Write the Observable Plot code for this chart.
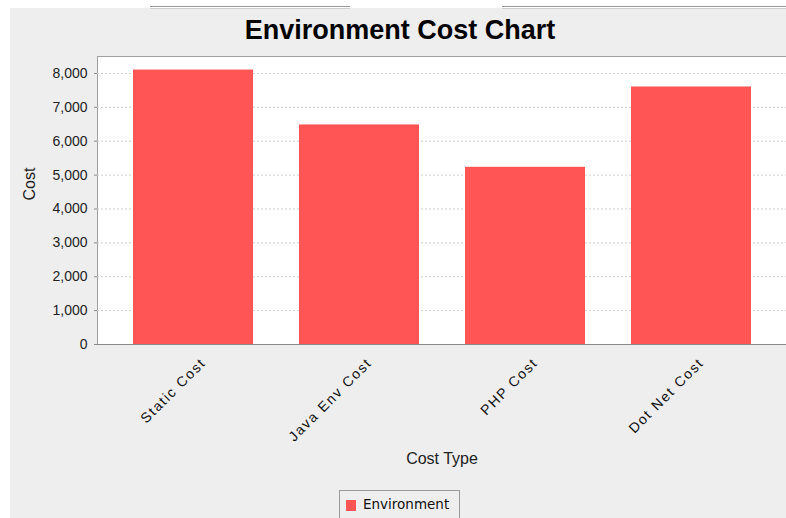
<!DOCTYPE html>
<html>
<head>
<meta charset="utf-8">
<script src="https://cdn.jsdelivr.net/npm/d3@7"></script>
<script src="https://cdn.jsdelivr.net/npm/@observablehq/plot@0.6"></script>
<style>
  html, body { margin: 0; padding: 0; background: #ffffff; overflow: hidden; }
  #chart { position: relative; width: 786px; height: 518px; overflow: hidden; }
  #panel { position: absolute; left: 10px; top: 8px; right: 0; bottom: 0; background: #eeeeee; }
  .tab { position: absolute; top: 6px; height: 1px; border-top: 1px solid #9a9a9a; border-bottom: 1px solid #d0d0d0; }
  #title { position: absolute; left: 0; top: 15px; width: 800px; text-align: center;
           font: bold 27px "Liberation Sans", Arial, sans-serif; color: #000; }
  #legend { position: absolute; left: 339px; top: 490px; width: 121px; height: 40px;
            border: 1px solid #9a9a9a; box-sizing: border-box; }
  #legend .sw { position: absolute; left: 6px; top: 9px; width: 10px; height: 11px; background: #ff5555; }
  #legend .lb { position: absolute; left: 23px; top: 5px; font: 13.5px "DejaVu Sans", sans-serif; color: #111; }
  #plot { position: absolute; left: 0; top: 0; }
  #plot g[aria-label="x-axis tick label"] text { letter-spacing: 1.6px; }
</style>
</head>
<body>
<div id="chart">
  <div id="panel"></div>
  <div class="tab" style="left:150px;width:200px"></div>
  <div class="tab" style="left:502px;width:284px"></div>
  <div id="title">Environment Cost Chart</div>
  <div id="plot"></div>
  <div id="legend"><div class="sw"></div><div class="lb" id="legendLabel"></div></div>
</div>
<script>
// Cost per environment type
const categories = ["Static Cost", "Java Env Cost", "PHP Cost", "Dot Net Cost"];
const costs = [8100, 6480, 5230, 7600];
const seriesName = "Environment";
const yTicks = [0, 1000, 2000, 3000, 4000, 5000, 6000, 7000, 8000];

const data = categories.map((type, i) => ({type, cost: costs[i]}));
document.getElementById("legendLabel").textContent = seriesName;

const barColor = "#ff5555";
const font = '"Liberation Sans", Arial, sans-serif';

const chart = Plot.plot({
  width: 786,
  height: 518,
  marginLeft: 97,
  marginRight: 0,
  marginTop: 56,
  marginBottom: 174,
  style: {background: "transparent", fontFamily: font, overflow: "visible"},
  x: {domain: categories, paddingInner: 0.28, paddingOuter: 0.207, label: null},
  y: {domain: [0, 8500], label: null},
  marks: [
    Plot.frame({fill: "white", stroke: "#a0a0a0"}),
    Plot.gridY(yTicks, {stroke: "#d0d0d0", strokeOpacity: 1, strokeDasharray: "2,2"}),
    Plot.barY(data, {x: "type", y: "cost", fill: barColor}),
    Plot.ruleY([0], {stroke: "#8a8a8a"}),
    Plot.ruleX([0], {frameAnchor: "left", stroke: "#8a8a8a"}),
    Plot.axisY(yTicks, {
      tickFormat: d3.format(","), tickSize: 3, tickPadding: 7,
      stroke: "#8a8a8a", fontSize: 14, fill: "#222", label: null
    }),
    Plot.axisX({
      tickRotate: -45, tickSize: 0, tickPadding: 16,
      fontSize: 14, fill: "#111", label: null, dx: 10
    }),
    Plot.text(["Cost"], {
      frameAnchor: "left", dx: -68, rotate: -90,
      fontSize: 16, fill: "#222", fontFamily: font
    }),
    Plot.text(["Cost Type"], {
      frameAnchor: "bottom", dy: 119,
      fontSize: 16, fill: "#222", fontFamily: font
    })
  ]
});
document.getElementById("plot").append(chart);
</script>
</body>
</html>
